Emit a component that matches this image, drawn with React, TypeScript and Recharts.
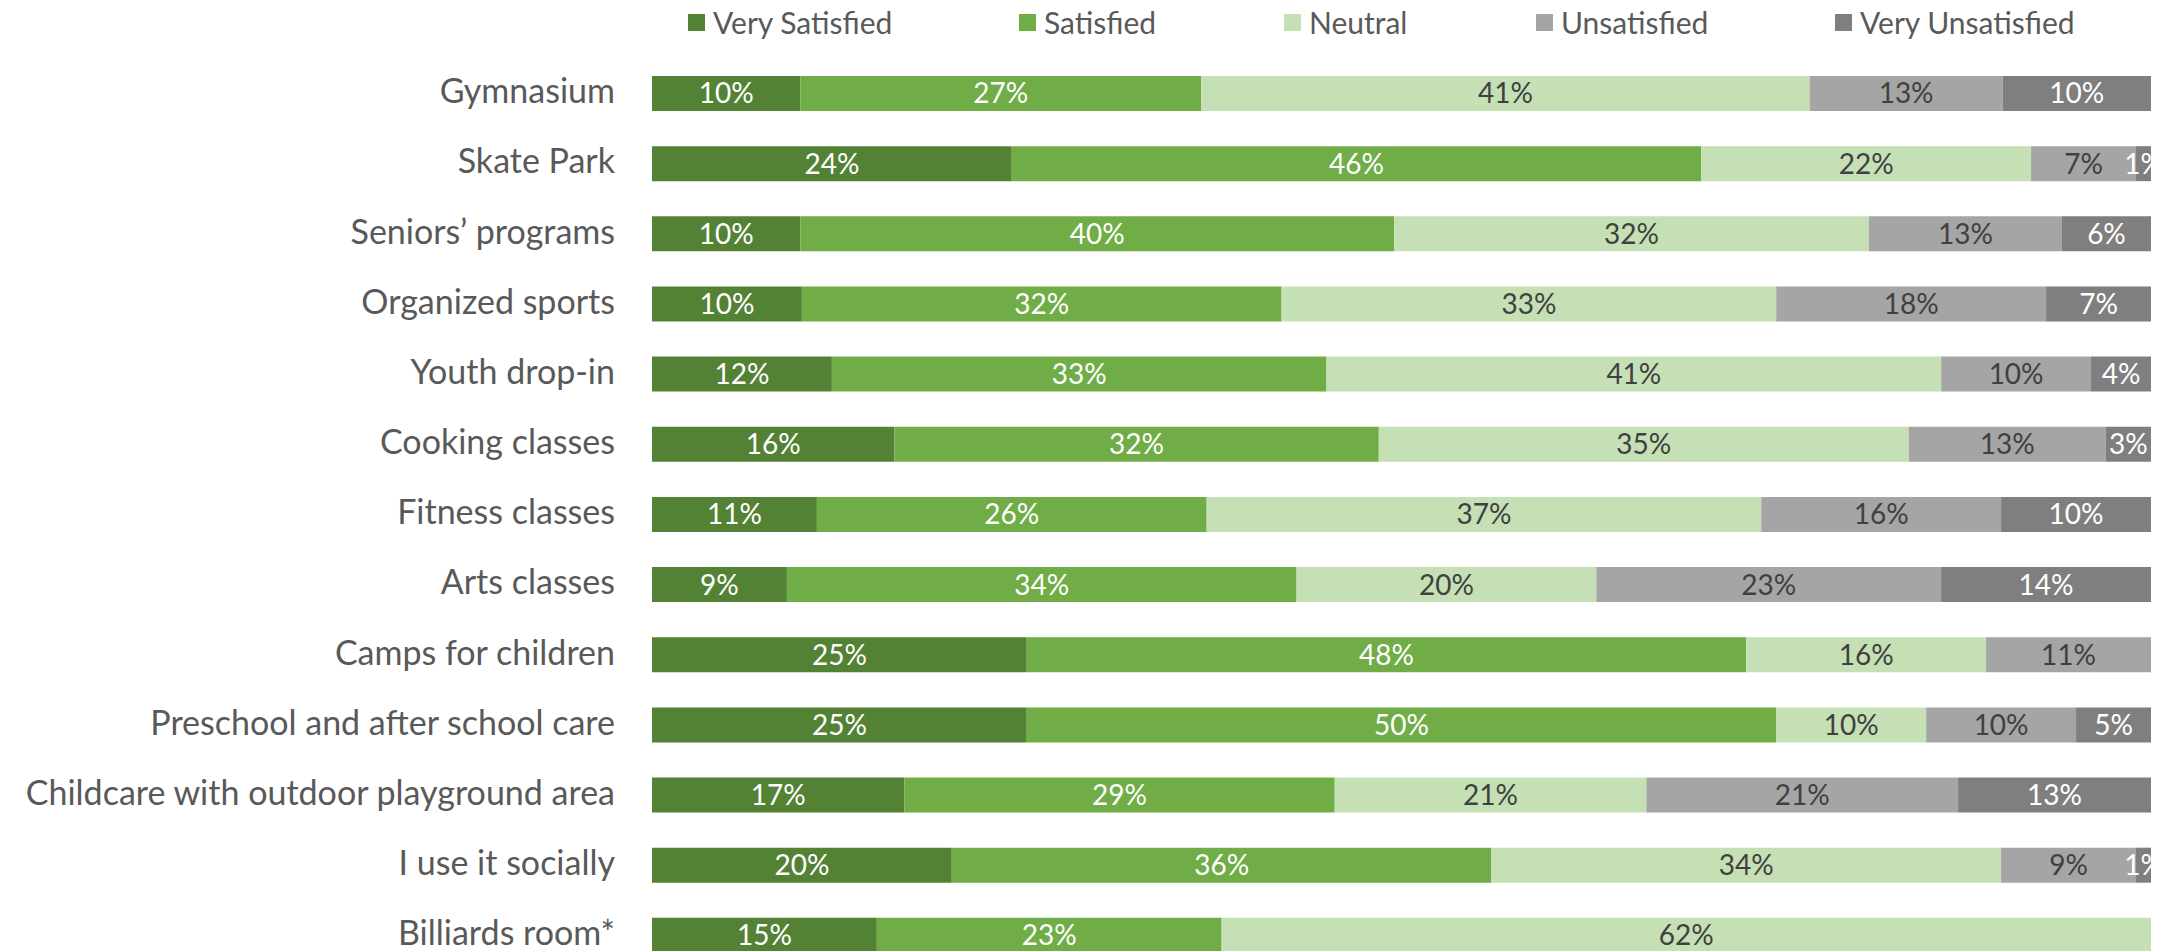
import React from 'react';
import { BarChart, Bar, XAxis, YAxis, Legend, LabelList } from 'recharts';

const categories = [
  'Gymnasium',
  'Skate Park',
  'Seniors\u2019 programs',
  'Organized sports',
  'Youth drop-in',
  'Cooking classes',
  'Fitness classes',
  'Arts classes',
  'Camps for children',
  'Preschool and after school care',
  'Childcare with outdoor playground area',
  'I use it socially',
  'Billiards room*',
];

const verySatisfied = [10, 24, 10, 10, 12, 16, 11, 9, 25, 25, 17, 20, 15];
const satisfied = [27, 46, 40, 32, 33, 32, 26, 34, 48, 50, 29, 36, 23];
const neutral = [41, 22, 32, 33, 41, 35, 37, 20, 16, 10, 21, 34, 62];
const unsatisfied = [13, 7, 13, 18, 10, 13, 16, 23, 11, 10, 21, 9, 0];
const veryUnsatisfied = [10, 1, 6, 7, 4, 3, 10, 14, 0, 5, 13, 1, 0];

const data = categories.map((name, i) => ({
  name,
  vs: verySatisfied[i],
  s: satisfied[i],
  n: neutral[i],
  u: unsatisfied[i],
  vu: veryUnsatisfied[i],
}));

const FONT = "Lato, 'Open Sans', sans-serif";

const series = [
  { key: 'vs', label: 'Very Satisfied', color: '#548235', text: '#ffffff' },
  { key: 's', label: 'Satisfied', color: '#70ad47', text: '#ffffff' },
  { key: 'n', label: 'Neutral', color: '#c5e0b4', text: '#404040' },
  { key: 'u', label: 'Unsatisfied', color: '#a5a5a5', text: '#404040' },
  { key: 'vu', label: 'Very Unsatisfied', color: '#7f7f7f', text: '#ffffff' },
];

// left edge of each legend swatch, matched to the original layout
const legendLeft = [688, 1019, 1284, 1536, 1835];

const ChartLegend = () => (
  <div style={{ position: 'relative', height: 44 }}>
    {series.map((s, i) => (
      <div
        key={s.key}
        style={{ position: 'absolute', left: legendLeft[i], top: 0, height: 44, display: 'flex', alignItems: 'center', whiteSpace: 'nowrap' }}
      >
        <span style={{ width: 17, height: 17, background: s.color, marginRight: 8, display: 'inline-block' }} />
        <span style={{ fontFamily: FONT, fontSize: 30, color: '#595959' }}>{s.label}</span>
      </div>
    ))}
  </div>
);

const CategoryTick = ({ x, y, payload }: any) => (
  <text x={x} y={y} dy="0.3em" textAnchor="end" fill="#595959" fontSize={34} fontFamily={FONT}>
    {payload.value}
  </text>
);

const pct = (v: any) => (v ? `${v}%` : '');

export default function App() {
  return (
    <div style={{ position: 'absolute', left: 0, top: 0, width: 2166, height: 951, overflow: 'hidden', background: '#fff' }}>
      <BarChart
        width={2166}
        height={980}
        data={data}
        layout="vertical"
        stackOffset="expand"
        margin={{ top: 58, right: 15, bottom: 10, left: 0 }}
      >
        <XAxis type="number" hide domain={[0, 1]} />
        <YAxis
          type="category"
          dataKey="name"
          width={652}
          axisLine={false}
          tickLine={false}
          tickSize={0}
          tickMargin={37}
          interval={0}
          tick={<CategoryTick />}
        />
        <Legend
          verticalAlign="middle"
          align="center"
          layout="horizontal"
          content={<ChartLegend />}
          wrapperStyle={{ top: 0, left: 0, width: 2166 }}
        />
        {series.map((s) => (
          <Bar key={s.key} dataKey={s.key} name={s.label} stackId="a" fill={s.color} barSize={35} isAnimationActive={false}>
            <LabelList
              dataKey={s.key}
              position="center"
              formatter={pct}
              fill={s.text}
              style={{ fontSize: 28, fontFamily: FONT }}
            />
          </Bar>
        ))}
      </BarChart>
    </div>
  );
}
